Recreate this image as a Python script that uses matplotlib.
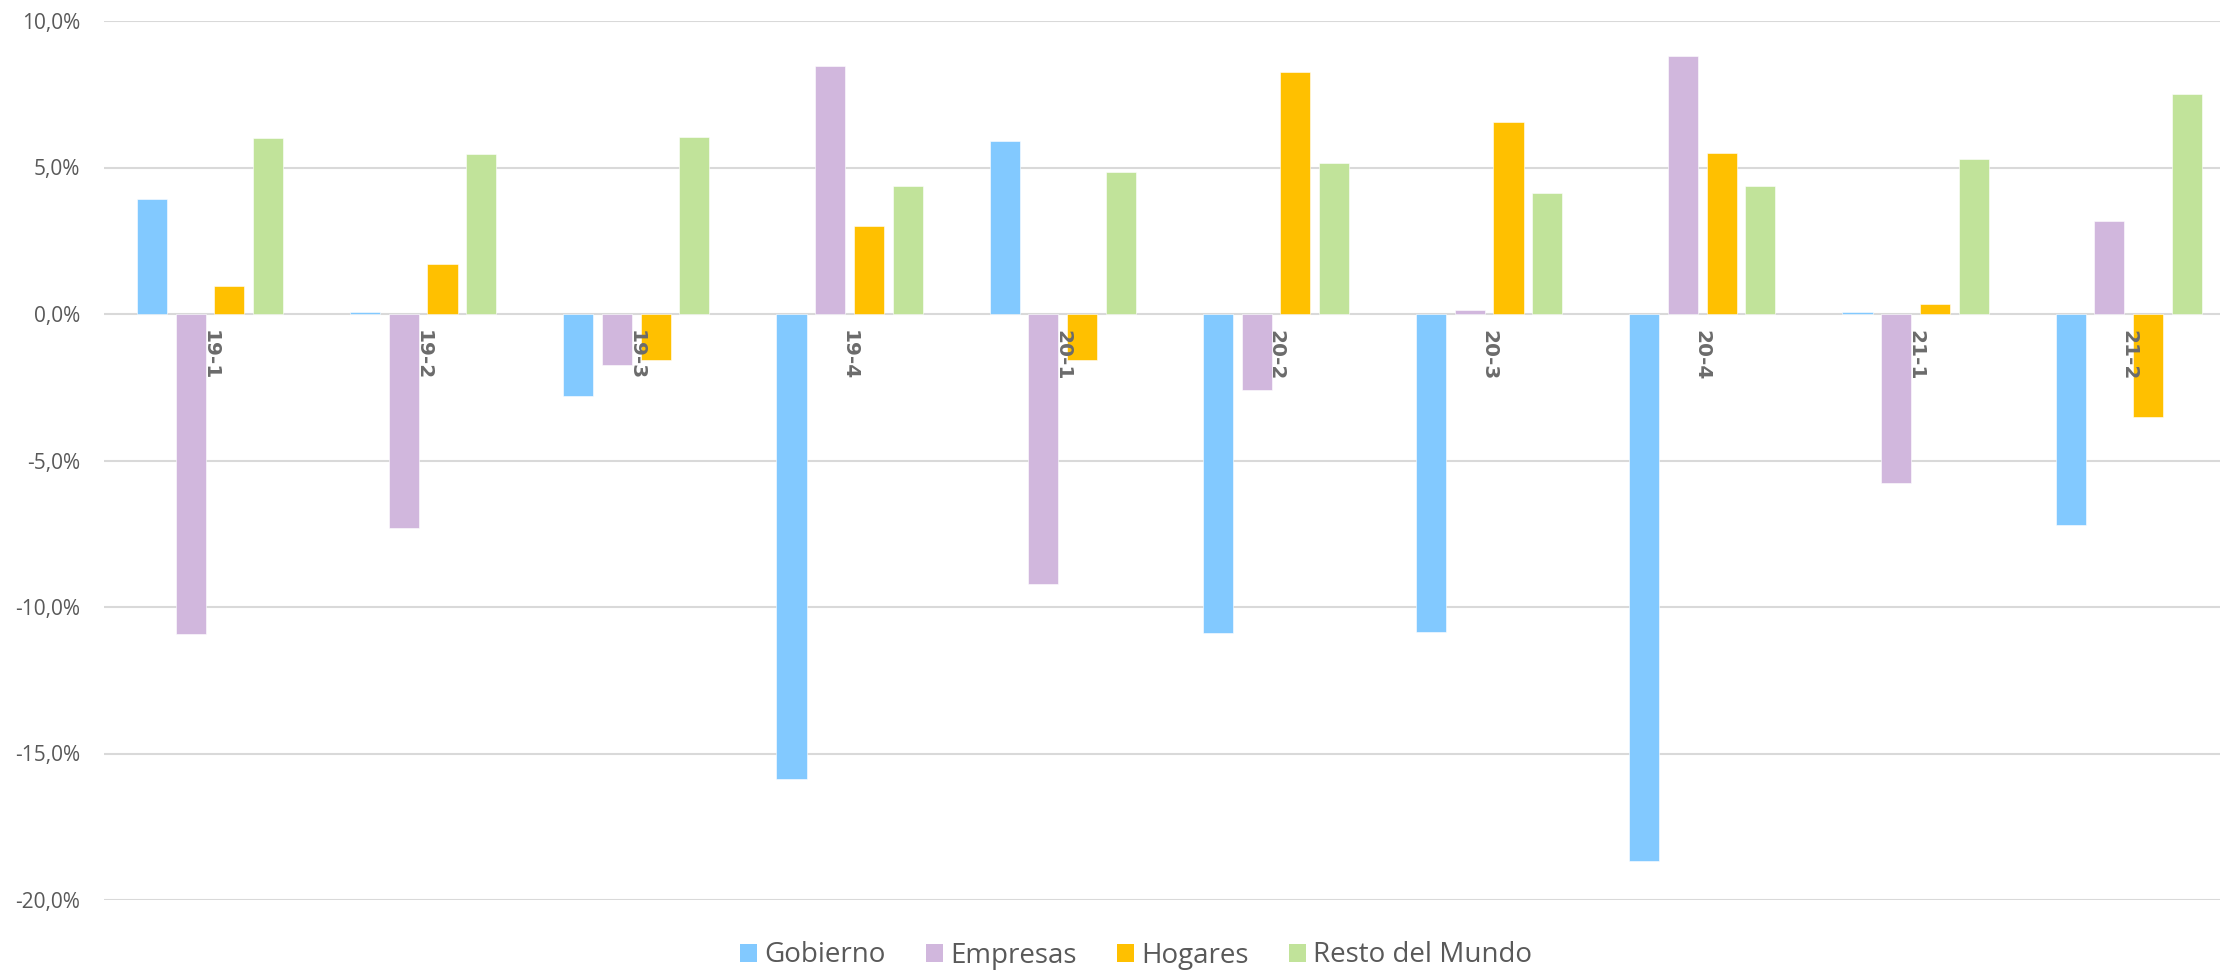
import matplotlib
matplotlib.use("Agg")
import matplotlib.pyplot as plt
import numpy as np
from matplotlib.ticker import FuncFormatter

categories = ["19-1", "19-2", "19-3", "19-4", "20-1", "20-2", "20-3", "20-4", "21-1", "21-2"]
gobierno = [3.91, 0.07, -2.80, -15.88, 5.89, -10.88, -10.84, -18.68, 0.07, -7.20]
empresas = [-10.92, -7.30, -1.73, 8.47, -9.23, -2.59, 0.14, 8.81, -5.76, 3.17]
hogares = [0.96, 1.72, -1.57, 2.99, -1.56, 8.26, 6.54, 5.49, 0.33, -3.53]
resto = [6.00, 5.47, 6.04, 4.38, 4.84, 5.15, 4.12, 4.37, 5.30, 7.50]
series_names = ["Gobierno", "Empresas", "Hogares", "Resto del Mundo"]
colors = ["#82C9FF", "#D1B7DD", "#FFC000", "#C1E39A"]
yticks = [-20, -15, -10, -5, 0, 5, 10]

W, H = 2223, 975
fig = plt.figure(figsize=(W / 100, H / 100), dpi=100)
left, right, top, bottom = 104, 2220, 21, 900
ax = fig.add_axes([left / W, 1 - bottom / H, (right - left) / W, (bottom - top) / H])

x = np.arange(len(categories))
pitch = 0.1815
width = 0.141
data = [gobierno, empresas, hogares, resto]
for k, (vals, name, c) in enumerate(zip(data, series_names, colors)):
    ax.bar(x + (k - 1.5) * pitch, vals, width=width, color=c, label=name,
           edgecolor="white", linewidth=0.4, zorder=3)

ax.set_xlim(-0.497, 9.428)
ax.set_ylim(-20, 10)
ax.set_yticks(yticks)
ax.yaxis.set_major_formatter(FuncFormatter(lambda v, p: f"{v:.1f}%".replace(".", ",")))
ax.grid(axis="y", color="#D9D9D9", linewidth=1.5, zorder=0)
ax.set_axisbelow(True)
ax.set_xticks([])
for s in ax.spines.values():
    s.set_visible(False)
ax.tick_params(axis="y", length=0, pad=17, labelsize=15, labelcolor="#595959")
for lab in ax.get_yticklabels():
    lab.set_fontfamily("Open Sans")

for i, c in enumerate(categories):
    ax.text(i, -0.55, c, rotation=270, ha="center", va="top", fontsize=14.5,
            fontweight="bold", color="#6b6b6b", family="DejaVu Sans", zorder=4)

handles, labels = ax.get_legend_handles_labels()
leg = fig.legend(handles, labels, loc="center", bbox_to_anchor=(0.511, 0.02), ncol=4,
                 frameon=False, prop={"family": "Open Sans", "size": 20},
                 handlelength=0.62, handleheight=0.62, handletextpad=0.25,
                 columnspacing=1.45, borderaxespad=0)
for t in leg.get_texts():
    t.set_color("#595959")
for h in leg.legend_handles:
    h.set_linewidth(0)

fig.savefig("out.png", dpi=100)
